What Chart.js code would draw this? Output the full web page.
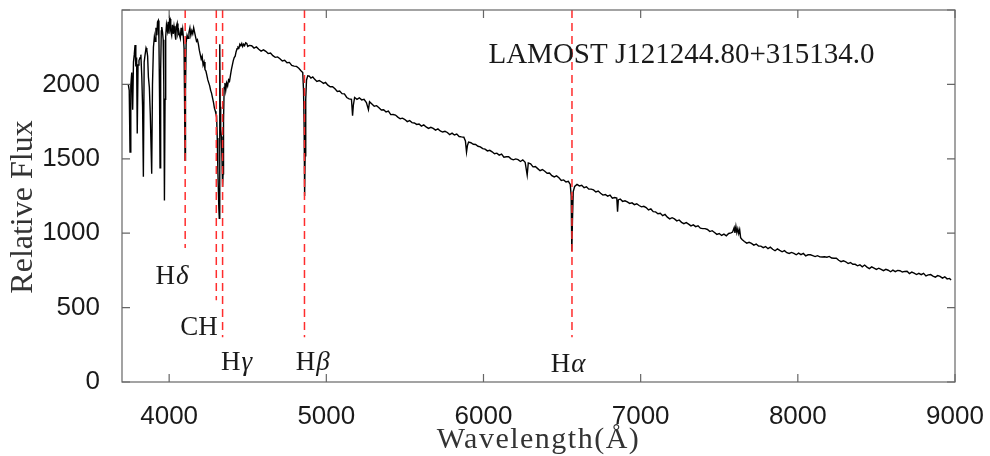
<!DOCTYPE html>
<html>
<head>
<meta charset="utf-8">
<script src="https://cdn.jsdelivr.net/npm/chart.js@4.4.1/dist/chart.umd.min.js"></script>
<style>
  html, body { margin: 0; padding: 0; background: #fff; }
  canvas { display: block; }
</style>
</head>
<body>
<canvas id="js--spectrum" width="990" height="456"></canvas>
<script>
// spectrum (wavelength in A, relative flux)
const wave = [
  3740, 3746, 3751, 3756, 3762, 3768, 3773, 3778, 3783, 3788,
  3793, 3797, 3802, 3808, 3815, 3820, 3826, 3831, 3836, 3841,
  3847, 3853, 3858, 3863, 3868, 3874, 3880, 3889, 3894, 3900,
  3906, 3910, 3916, 3922, 3926, 3931, 3935, 3939, 3942, 3946,
  3950, 3953, 3958, 3962, 3966, 3970, 3974, 3978, 3983, 3989,
  3994, 3999, 4003, 4007, 4010, 4016, 4021, 4026, 4031, 4036,
  4042, 4046, 4051, 4056, 4061, 4066, 4071, 4076, 4081, 4086,
  4091, 4095, 4098, 4101, 4104, 4108, 4114, 4120, 4126, 4132,
  4138, 4144, 4150, 4156, 4162, 4168, 4174, 4180, 4186, 4192,
  4198, 4204, 4210, 4216, 4222, 4228, 4234, 4240, 4246, 4252,
  4258, 4264, 4270, 4276, 4282, 4288, 4294, 4298, 4302, 4306,
  4310, 4313, 4316, 4319, 4321, 4323, 4325, 4328, 4332, 4336,
  4340, 4343, 4346, 4350, 4355, 4360, 4366, 4372, 4378, 4384,
  4390, 4396, 4402, 4408, 4414, 4420, 4426, 4432, 4438, 4444,
  4450, 4456, 4462, 4468, 4474, 4480, 4487, 4494, 4500, 4510,
  4525, 4540, 4555, 4570, 4585, 4600, 4615, 4630, 4645, 4660,
  4675, 4690, 4705, 4720, 4735, 4750, 4765, 4780, 4795, 4810,
  4825, 4840, 4850, 4855, 4859, 4862, 4865, 4869, 4874, 4882,
  4892, 4902, 4914, 4926, 4940, 4955, 4968, 4982, 4995, 5010,
  5025, 5040, 5055, 5070, 5085, 5100, 5115, 5130, 5145, 5160,
  5167, 5172, 5180, 5195, 5210, 5225, 5240, 5255, 5268, 5275,
  5290, 5305, 5320, 5335, 5350, 5365, 5380, 5395, 5410, 5425,
  5440, 5455, 5470, 5485, 5500, 5515, 5530, 5545, 5560, 5575,
  5590, 5605, 5620, 5635, 5650, 5665, 5680, 5695, 5710, 5725,
  5740, 5755, 5770, 5785, 5800, 5815, 5830, 5845, 5860, 5875,
  5885, 5892, 5898, 5905, 5920, 5935, 5950, 5965, 5980, 5995,
  6010, 6025, 6040, 6055, 6070, 6085, 6100, 6115, 6130, 6145,
  6160, 6175, 6190, 6205, 6220, 6235, 6250, 6265, 6278, 6285,
  6300, 6315, 6330, 6345, 6360, 6375, 6390, 6405, 6420, 6435,
  6450, 6465, 6480, 6495, 6510, 6525, 6540, 6552, 6558, 6562,
  6566, 6571, 6580, 6595, 6610, 6625, 6640, 6655, 6670, 6685,
  6700, 6715, 6730, 6745, 6760, 6775, 6790, 6805, 6820, 6835,
  6848, 6853, 6858, 6870, 6885, 6900, 6915, 6930, 6945, 6960,
  6975, 6990, 7005, 7020, 7035, 7050, 7065, 7080, 7095, 7110,
  7125, 7140, 7155, 7170, 7185, 7200, 7215, 7230, 7245, 7260,
  7275, 7290, 7305, 7320, 7335, 7350, 7365, 7380, 7395, 7410,
  7425, 7440, 7455, 7470, 7485, 7500, 7515, 7530, 7545, 7560,
  7575, 7585, 7595, 7600, 7606, 7612, 7618, 7624, 7630, 7636,
  7645, 7660, 7675, 7690, 7705, 7720, 7735, 7750, 7765, 7780,
  7795, 7810, 7825, 7840, 7855, 7870, 7885, 7900, 7915, 7930,
  7945, 7960, 7975, 7990, 8005, 8020, 8035, 8050, 8065, 8080,
  8095, 8110, 8125, 8140, 8155, 8170, 8185, 8200, 8215, 8230,
  8245, 8260, 8275, 8290, 8305, 8320, 8335, 8350, 8365, 8380,
  8395, 8410, 8425, 8440, 8455, 8470, 8485, 8500, 8515, 8530,
  8545, 8560, 8575, 8590, 8605, 8620, 8635, 8650, 8665, 8680,
  8695, 8710, 8725, 8740, 8755, 8770, 8785, 8800, 8815, 8830,
  8845, 8860, 8875, 8890, 8905, 8920, 8935, 8950, 8965, 8975
];
const flux = [
  2000, 1960, 1545, 1990, 2080, 1830, 2150, 2200, 2265, 2120,
  2180, 1670, 2130, 2160, 2180, 2200, 2050, 1850, 1380, 2150,
  2200, 2245, 2230, 2190, 2050, 1980, 1800, 1400, 2000, 2250,
  2320, 2290, 2380, 2330, 2420, 2430, 2300, 1900, 1440, 2100,
  2360, 2385, 2350, 2300, 2000, 1220, 1900, 2320, 2400, 2360,
  2420, 2340, 2450, 2440, 2360, 2330, 2400, 2340, 2390, 2350,
  2300, 2390, 2410, 2340, 2360, 2330, 2310, 2380, 2330, 2370,
  2310, 2240, 1900, 1490, 1950, 2280, 2330, 2310, 2350, 2380,
  2330, 2360, 2340, 2380, 2350, 2320, 2290, 2300, 2270, 2230,
  2200, 2170, 2190, 2130, 2150, 2100, 2090, 2060, 2030, 2010,
  1990, 1960, 1940, 1910, 1880, 1840, 1820, 1800, 1790, 1640,
  1420, 1300, 1170, 1100, 1400, 2270, 1850, 1700, 1650, 1500,
  1310, 1400, 1750, 1980, 2010, 1960, 2010, 1990, 2030, 2020,
  2060, 2100, 2130, 2160, 2180, 2190, 2220, 2240, 2250, 2245,
  2270, 2260, 2275, 2255, 2270, 2260, 2280, 2275, 2255, 2262,
  2260, 2244, 2252, 2236, 2224, 2232, 2222, 2207, 2211, 2193,
  2182, 2185, 2173, 2157, 2162, 2146, 2148, 2128, 2123, 2121,
  2108, 2090, 2080, 1960, 1700, 1250, 1520, 1900, 2030, 2058,
  2056, 2042, 2050, 2034, 2020, 2026, 2018, 2007, 2013, 1995,
  1984, 1985, 1971, 1953, 1956, 1938, 1936, 1912, 1903, 1899,
  1790, 1860, 1912, 1900, 1910, 1896, 1900, 1878, 1830, 1884,
  1869, 1853, 1857, 1843, 1828, 1830, 1815, 1820, 1797, 1798,
  1794, 1780, 1769, 1773, 1764, 1750, 1757, 1743, 1741, 1731,
  1734, 1720, 1728, 1714, 1704, 1712, 1704, 1693, 1701, 1687,
  1680, 1685, 1677, 1663, 1672, 1660, 1666, 1650, 1647, 1645,
  1620, 1545, 1590, 1612, 1608, 1598, 1596, 1584, 1580, 1568,
  1565, 1553, 1557, 1547, 1534, 1538, 1525, 1532, 1511, 1514,
  1514, 1500, 1493, 1499, 1494, 1482, 1493, 1477, 1390, 1472,
  1466, 1446, 1448, 1434, 1420, 1428, 1416, 1403, 1405, 1387,
  1378, 1385, 1373, 1355, 1358, 1344, 1348, 1328, 1250, 880,
  1080, 1280, 1314, 1328, 1318, 1322, 1306, 1312, 1296, 1296,
  1291, 1277, 1283, 1269, 1256, 1260, 1249, 1256, 1235, 1240,
  1236, 1145, 1224, 1230, 1214, 1218, 1210, 1200, 1204, 1192,
  1198, 1186, 1177, 1181, 1172, 1156, 1163, 1145, 1143, 1131,
  1134, 1118, 1126, 1108, 1096, 1104, 1096, 1083, 1089, 1073,
  1064, 1071, 1061, 1049, 1056, 1044, 1050, 1034, 1031, 1031,
  1025, 1011, 1017, 1005, 992, 998, 985, 994, 983, 998,
  1002, 1008, 1038, 1002, 1046, 1004, 1030, 998, 1024, 970,
  958, 944, 933, 939, 932, 920, 927, 913, 913, 903,
  910, 896, 906, 892, 882, 894, 884, 875, 883, 869,
  864, 871, 865, 855, 866, 856, 864, 848, 855, 855,
  849, 843, 849, 841, 840, 842, 839, 844, 833, 832,
  832, 818, 809, 815, 808, 796, 803, 791, 791, 781,
  788, 774, 786, 772, 762, 774, 766, 757, 765, 757,
  748, 757, 751, 741, 752, 742, 750, 748, 739, 743,
  744, 729, 739, 731, 722, 730, 721, 730, 713, 720,
  722, 712, 705, 715, 710, 698, 707, 693, 696, 686
];

// lijnen (rest wavelengths) + how far down the dashed line goes
const lineWave = [4102, 4300, 4340, 4861, 6563];
const lineBottom = [900, 550, 300, 300, 300];

// line names and where they sit (data units)
const labelText = ["H\u03b4", "CH", "H\u03b3", "H\u03b2", "H\u03b1"];
const labelWave = [4015, 4190, 4426, 4910, 6535];
const labelFlux = [705, 362, 128, 128, 114];

const xTicks = [4000, 5000, 6000, 7000, 8000, 9000];
const yTicks = [0, 500, 1000, 1500, 2000, 2500];

const objectName = "LAMOST J121244.80+315134.0";

// chart

const spectrumData = wave.map((w, i) => ({ x: w, y: flux[i] }));

const lineSets = lineWave.map((w, i) => ({
    data: [{ x: w, y: 2500 }, { x: w, y: lineBottom[i] }],
    borderColor: "rgb(255, 45, 45)",
    borderWidth: 1.5,
    borderDash: [8, 5],
    order: 0
}));

const kader = {
    id: "kader",
    afterDatasetsDraw(chart) {
        const { ctx, chartArea: a, scales: { x, y } } = chart;
        ctx.save();
        ctx.strokeStyle = "#666";
        ctx.lineWidth = 1.2;
        ctx.strokeRect(a.left, a.top, a.width, a.height);
        ctx.beginPath();
        x.ticks.forEach(t => {
            const px = x.getPixelForValue(t.value);
            ctx.moveTo(px, a.bottom); ctx.lineTo(px, a.bottom - 8);
            ctx.moveTo(px, a.top); ctx.lineTo(px, a.top + 8);
        });
        y.ticks.forEach(t => {
            const py = y.getPixelForValue(t.value);
            ctx.moveTo(a.left, py); ctx.lineTo(a.left + 8, py);
            ctx.moveTo(a.right, py); ctx.lineTo(a.right - 8, py);
        });
        ctx.stroke();
        ctx.restore();
    },
    afterDraw(chart) {
        const { ctx, chartArea: a, scales: { x, y } } = chart;
        ctx.save();
        ctx.fillStyle = "#1a1a1a";
        ctx.textBaseline = "middle";

        // line names, greek part italic
        labelText.forEach((txt, i) => {
            const px = x.getPixelForValue(labelWave[i]);
            const py = y.getPixelForValue(labelFlux[i]);
            const greek = /[\u0370-\u03ff]/.test(txt.slice(-1));
            const head = greek ? txt.slice(0, -1) : txt;
            const tail = greek ? txt.slice(-1) : "";
            ctx.font = "27px 'Liberation Serif'";
            const w1 = ctx.measureText(head).width;
            ctx.font = "italic 27px 'Liberation Serif'";
            const w2 = ctx.measureText(tail).width;
            let sx = px - (w1 + w2) / 2;
            ctx.textAlign = "left";
            ctx.font = "27px 'Liberation Serif'";
            ctx.fillText(head, sx, py);
            ctx.font = "italic 27px 'Liberation Serif'";
            ctx.fillText(tail, sx + w1 + 1, py);
        });

        // object name
        ctx.textAlign = "center";
        ctx.font = "29px 'Liberation Serif'";
        ctx.fillText(objectName, x.getPixelForValue(7260), y.getPixelForValue(2195));

        // axis titles
        ctx.fillStyle = "#333";
        ctx.font = "30px 'Liberation Serif'";
        ctx.letterSpacing = "1.5px";
        ctx.textBaseline = "alphabetic";
        ctx.fillText("Wavelength(\u00c5)", (a.left + a.right) / 2, a.bottom + 66);
        ctx.letterSpacing = "0px";

        ctx.translate(24, (a.top + a.bottom) / 2 + 11);
        ctx.rotate(-Math.PI / 2);
        ctx.textBaseline = "middle";
        ctx.font = "32px 'Liberation Serif'";
        ctx.fillText("Relative Flux", 0, 0);
        ctx.restore();
    }
};

const spectrumChart = new Chart(document.getElementById("js--spectrum"), {
    type: "line",
    data: {
        datasets: [
            ...lineSets,
            {
                data: spectrumData,
                borderColor: "#000",
                borderWidth: 1.4,
                order: 1
            }
        ]
    },
    options: {
        responsive: false,
        animation: false,
        layout: { padding: { top: 10, right: 35, left: 0, bottom: 0 } },
        elements: {
            point: { radius: 0 },
            line: { tension: 0 }
        },
        plugins: {
            legend: { display: false },
            tooltip: { enabled: false }
        },
        scales: {
            x: {
                type: "linear",
                min: 3700,
                max: 9000,
                grid: { display: false },
                border: { display: false },
                afterBuildTicks: s => { s.ticks = xTicks.map(v => ({ value: v })); },
                afterFit: s => {
                    s.height = 74;
                    s.paddingLeft = 0;
                    s.paddingRight = 0;
                },
                ticks: {
                    autoSkip: false,
                    maxRotation: 0,
                    padding: 11,
                    color: "#1a1a1a",
                    font: { family: "'Liberation Sans'", size: 26 },
                    callback: v => String(v)
                }
            },
            y: {
                min: 0,
                max: 2500,
                grid: { display: false },
                border: { display: false },
                afterBuildTicks: s => { s.ticks = yTicks.map(v => ({ value: v })); },
                afterFit: s => {
                    s.width = 122;
                    s.paddingTop = 0;
                    s.paddingBottom = 0;
                },
                ticks: {
                    padding: 14,
                    color: "#1a1a1a",
                    font: { family: "'Liberation Sans'", size: 26 },
                    callback: v => v === 2500 ? "" : String(v)
                }
            }
        }
    },
    plugins: [kader]
});
</script>
</body>
</html>
